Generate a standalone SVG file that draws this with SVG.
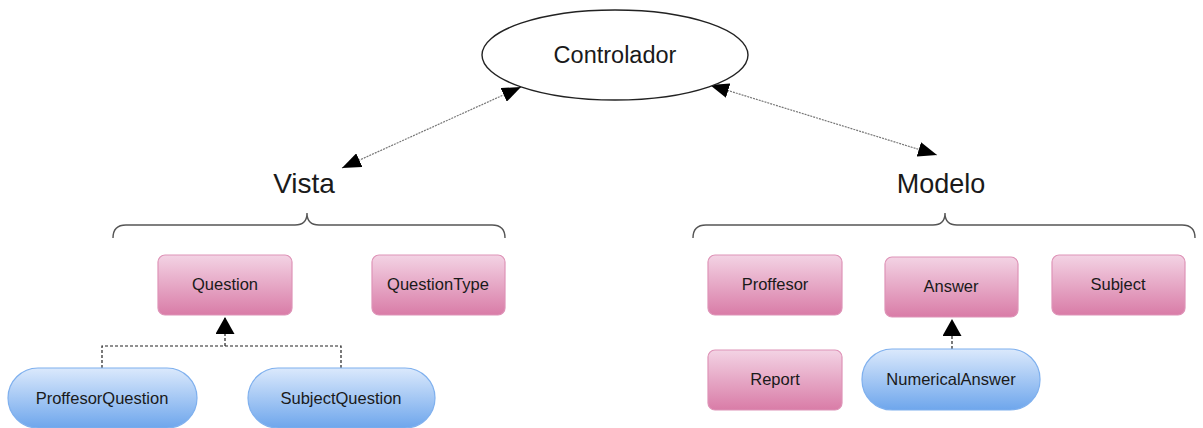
<svg xmlns="http://www.w3.org/2000/svg" width="1203" height="428" viewBox="0 0 1203 428">
<defs>
<linearGradient id="pink" x1="0" y1="0" x2="0" y2="1">
<stop offset="0" stop-color="#f3d3e4"/>
<stop offset="1" stop-color="#d97ca7"/>
</linearGradient>
<linearGradient id="blue" x1="0" y1="0" x2="0" y2="1">
<stop offset="0" stop-color="#dbe9fc"/>
<stop offset="1" stop-color="#6ea6ec"/>
</linearGradient>
<marker id="tri" viewBox="0 0 19 15" refX="19" refY="7.5" markerWidth="19" markerHeight="15" markerUnits="userSpaceOnUse" orient="auto-start-reverse">
<path d="M0,0 L19,7.5 L0,15 z" fill="#000"/>
</marker>
<marker id="inh" viewBox="0 0 17 19" refX="17" refY="9.5" markerWidth="17" markerHeight="19" markerUnits="userSpaceOnUse" orient="auto">
<path d="M0,0 L17,9.5 L0,19 z" fill="#000"/>
</marker>
</defs>
<style>
text{font-family:"Liberation Sans",Arial,sans-serif;fill:#1a1a1a;text-anchor:middle}
.cls{fill:url(#pink);stroke:#de93b7;stroke-width:1.2}
.pill{fill:url(#blue);stroke:#7fb0ee;stroke-width:1.2}
.lbl{font-size:16.5px}
.assoc{fill:none;stroke:#777;stroke-width:1.2;stroke-dasharray:2,1}
.dep{fill:none;stroke:#222;stroke-width:1.2;stroke-dasharray:3,2}
.brace{fill:none;stroke:#555;stroke-width:1.4}
</style>
<rect width="1203" height="428" fill="#fff"/>
<g id="connectors">
<path class="assoc" d="M342,168 L521,87" marker-start="url(#tri)" marker-end="url(#tri)"/>
<path class="assoc" d="M710,85 L937,155" marker-start="url(#tri)" marker-end="url(#tri)"/>
<path class="dep" d="M102,368 V346 H341 V368"/>
<path class="dep" d="M225,346 V317" marker-end="url(#inh)"/>
<path class="dep" d="M952,349 V319" marker-end="url(#inh)"/>
</g>
<g id="controlador">
<ellipse cx="615" cy="55" rx="133" ry="45" fill="#fff" stroke="#222" stroke-width="1.4"/>
<text x="615" y="63" font-size="23.5">Controlador</text>
</g>
<g id="vista">
<text x="304" y="193" font-size="28">Vista</text>
<path class="brace" d="M113,238 Q113,225 126,225 H295 Q307,225 307,213 Q307,225 319,225 H492 Q505,225 505,238"/>
</g>
<g id="modelo">
<text x="941" y="193" font-size="27">Modelo</text>
<path class="brace" d="M693,238 Q693,225 706,225 H933 Q945,225 945,213 Q945,225 957,225 H1182 Q1195,225 1195,238"/>
</g>
<g id="question"><rect class="cls" x="158" y="255" width="134" height="60" rx="7"/><text class="lbl" x="225" y="290">Question</text></g>
<g id="questiontype"><rect class="cls" x="372" y="255" width="133" height="60" rx="7"/><text class="lbl" x="438" y="290">QuestionType</text></g>
<g id="proffesorquestion"><rect class="pill" x="8" y="368" width="189" height="60" rx="30"/><text class="lbl" x="102" y="404">ProffesorQuestion</text></g>
<g id="subjectquestion"><rect class="pill" x="248" y="368" width="187" height="60" rx="30"/><text class="lbl" x="341" y="404">SubjectQuestion</text></g>
<g id="proffesor"><rect class="cls" x="708" y="255" width="134" height="60" rx="7"/><text class="lbl" x="775" y="290">Proffesor</text></g>
<g id="answer"><rect class="cls" x="885" y="257" width="133" height="60" rx="7"/><text class="lbl" x="951" y="292">Answer</text></g>
<g id="subject"><rect class="cls" x="1052" y="255" width="133" height="60" rx="7"/><text class="lbl" x="1118" y="290">Subject</text></g>
<g id="report"><rect class="cls" x="708" y="350" width="134" height="60" rx="7"/><text class="lbl" x="775" y="385">Report</text></g>
<g id="numericalanswer"><rect class="pill" x="862" y="349" width="178" height="61" rx="30"/><text class="lbl" x="951" y="385">NumericalAnswer</text></g>
</svg>
